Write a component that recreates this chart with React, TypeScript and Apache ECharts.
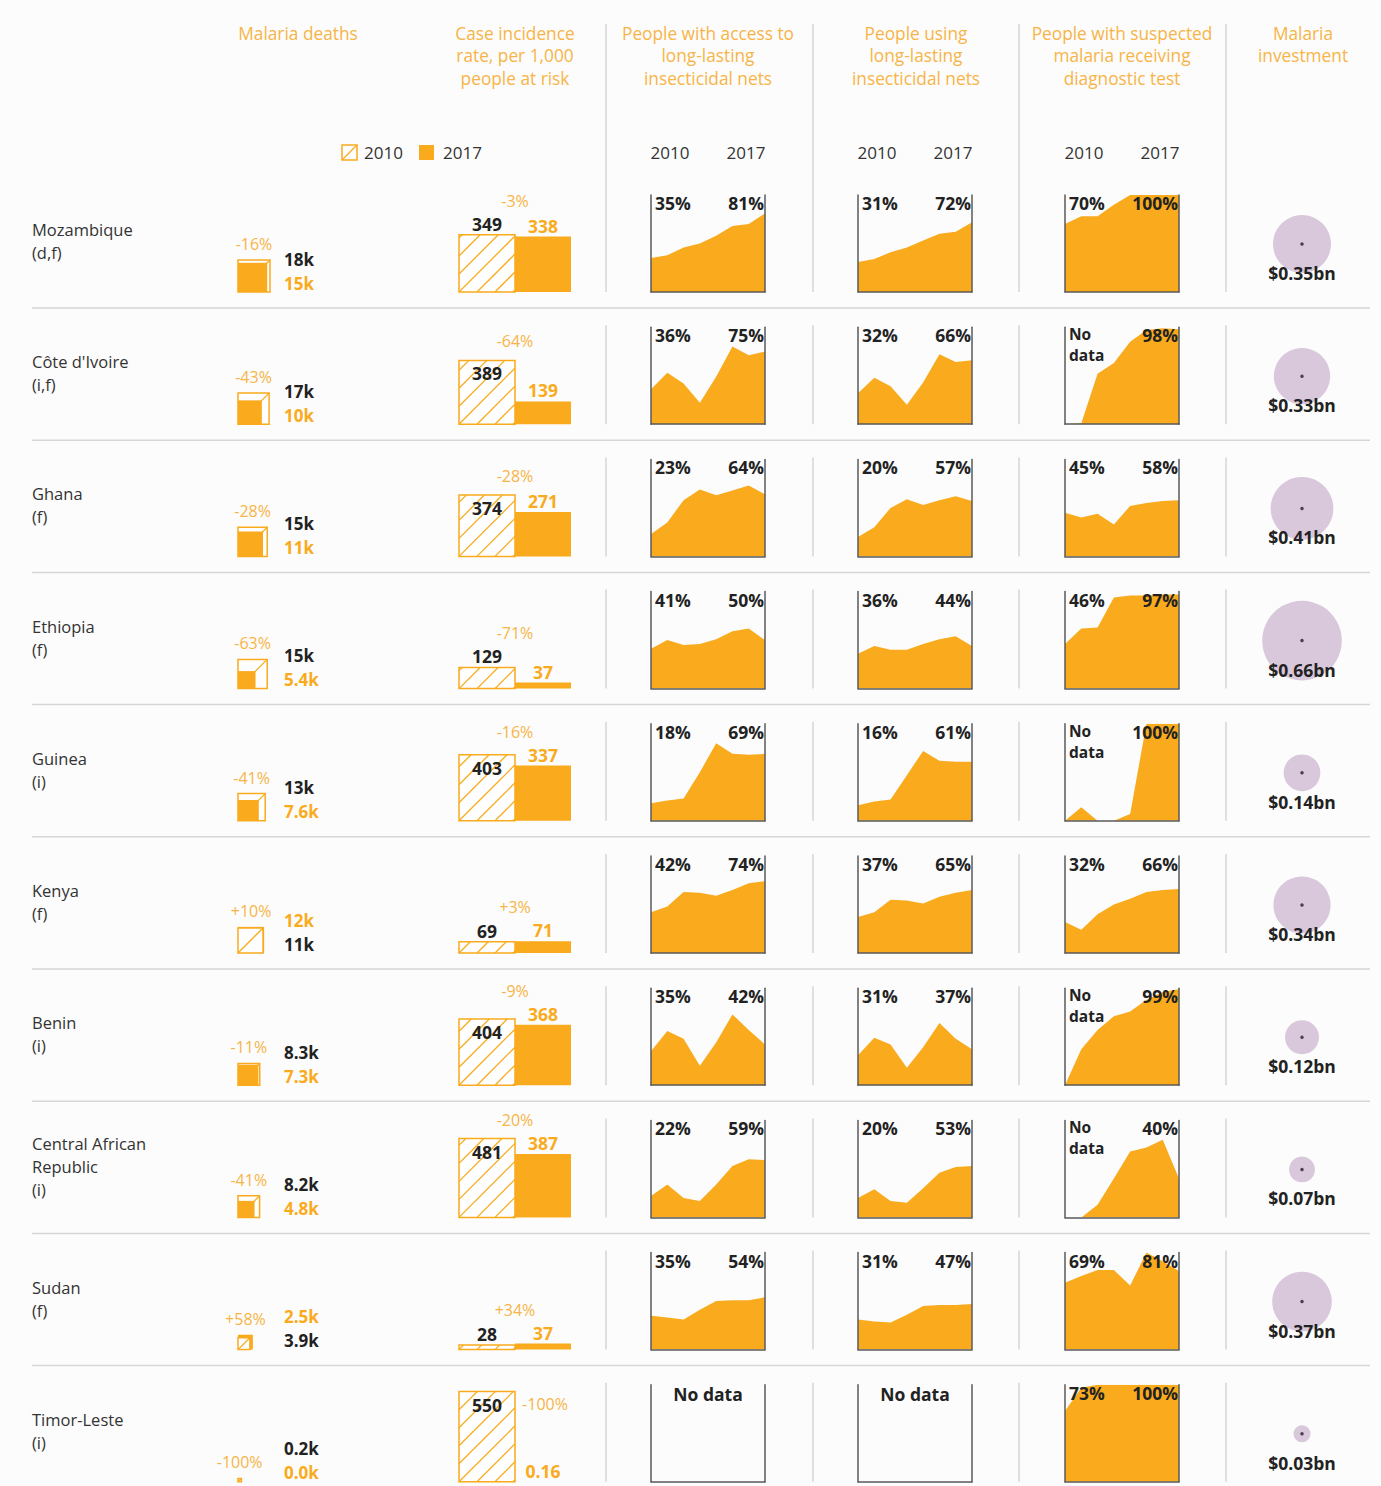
import React, { useEffect, useRef } from "react";
import * as echarts from "echarts";

// ---------- DATA ----------
const countryNames = ["Mozambique", "Côte d'Ivoire", "Ghana", "Ethiopia", "Guinea", "Kenya", "Benin", "Central African\nRepublic", "Sudan", "Timor-Leste"];
const countryNotes = ["(d,f)", "(i,f)", "(f)", "(f)", "(i)", "(f)", "(i)", "(i)", "(f)", "(i)"];

const years = ["2010", "2011", "2012", "2013", "2014", "2015", "2016", "2017"];

// Malaria deaths (thousands)
const deaths2010 = [18, 17, 15, 15, 13, 11, 8.3, 8.2, 2.5, 0.2];
const deaths2017 = [15, 10, 11, 5.4, 7.6, 12, 7.3, 4.8, 3.9, 0.0];
const deathsTopLabel = ["18k", "17k", "15k", "15k", "13k", "12k", "8.3k", "8.2k", "2.5k", "0.2k"];
const deathsBottomLabel = ["15k", "10k", "11k", "5.4k", "7.6k", "11k", "7.3k", "4.8k", "3.9k", "0.0k"];
const deathsChange = ["-16%", "-43%", "-28%", "-63%", "-41%", "+10%", "-11%", "-41%", "+58%", "-100%"];

// Case incidence per 1,000 at risk
const case2010 = [349, 389, 374, 129, 403, 69, 404, 481, 28, 550];
const case2017 = [338, 139, 271, 37, 337, 71, 368, 387, 37, 0.16];
const caseChange = ["-3%", "-64%", "-28%", "-71%", "-16%", "+3%", "-9%", "-20%", "+34%", "-100%"];

// % access to LLIN, 2010-2017
const netAccess: (number[] | null)[] = [
  [35, 38, 46, 50, 58, 68, 70, 81],
  [36, 53, 42, 22, 49, 80, 71, 75],
  [23, 35, 58, 69, 63, 68, 73, 64],
  [41, 50, 45, 46, 51, 59, 62, 50],
  [18, 21, 23, 50, 80, 69, 68, 69],
  [42, 48, 63, 62, 59, 65, 72, 74],
  [35, 56, 48, 20, 44, 73, 57, 42],
  [22, 34, 20, 17, 34, 53, 60, 59],
  [35, 33, 31, 41, 50, 51, 51, 54],
  null,
];
const netAccessLabels = [["35%", "81%"], ["36%", "75%"], ["23%", "64%"], ["41%", "50%"], ["18%", "69%"], ["42%", "74%"], ["35%", "42%"], ["22%", "59%"], ["35%", "54%"], ["No data", ""]];

// % using LLIN
const netUse: (number[] | null)[] = [
  [31, 34, 41, 46, 53, 60, 62, 72],
  [32, 48, 39, 20, 43, 72, 64, 66],
  [20, 30, 50, 59, 53, 58, 62, 57],
  [36, 44, 40, 40, 46, 51, 54, 44],
  [16, 20, 22, 47, 72, 62, 61, 61],
  [37, 42, 55, 54, 51, 58, 62, 65],
  [31, 49, 42, 18, 39, 64, 48, 37],
  [20, 29, 17, 15, 30, 46, 52, 53],
  [31, 29, 28, 36, 45, 46, 46, 47],
  null,
];
const netUseLabels = [["31%", "72%"], ["32%", "66%"], ["20%", "57%"], ["36%", "44%"], ["16%", "61%"], ["37%", "65%"], ["31%", "37%"], ["20%", "53%"], ["31%", "47%"], ["No data", ""]];

// % suspected malaria receiving diagnostic test
const diagTest: (number[] | null)[] = [
  [70, 78, 78, 90, 100, 100, 100, 100],
  [0, 1, 52, 63, 85, 97, 99, 98],
  [45, 40, 44, 33, 52, 55, 57, 58],
  [46, 62, 63, 94, 96, 96, 97, 97],
  [0, 14, 0, 0, 7, 100, 100, 100],
  [32, 24, 40, 50, 56, 63, 65, 66],
  [0, 37, 57, 71, 76, 88, 96, 99],
  [0, 0, 13, 40, 68, 72, 80, 40],
  [69, 76, 82, 82, 66, 100, 91, 81],
  [73, 97, 100, 100, 100, 100, 100, 100],
];
const diagTestLabels = [["70%", "100%"], ["No\ndata", "98%"], ["45%", "58%"], ["46%", "97%"], ["No\ndata", "100%"], ["32%", "66%"], ["No\ndata", "99%"], ["No\ndata", "40%"], ["69%", "81%"], ["73%", "100%"]];

// Malaria investment, $bn
const investment = [0.35, 0.33, 0.41, 0.66, 0.14, 0.34, 0.12, 0.07, 0.37, 0.03];

// Header texts
const headerDeaths = ["Malaria deaths"];
const headerCases = ["Case incidence", "rate, per 1,000", "people at risk"];
const headerAccess = ["People with access to", "long-lasting", "insecticidal nets"];
const headerUse = ["People using", "long-lasting", "insecticidal nets"];
const headerDiag = ["People with suspected", "malaria receiving", "diagnostic test"];
const headerInvest = ["Malaria", "investment"];

// ---------- STYLE ----------
const ORANGE = "#F9AB1D";
const ORANGE_LIGHT = "#F7B447";
const DARK = "#222222";
const TEXT = "#333333";
const BOX = "#5a5a5a";
const SEP = "#D6D6D6";
const BUBBLE = "#D9C7DB";
const BG = "#FCFCFC";
const FONT = '"Open Sans", "DejaVu Sans", sans-serif';
const BOLD_SIZE = 17.5;

const rowBase = (i: number) => 292 + i * 132.2;

function txt(x: number, y: number, text: string, o: any = {}) {
  const align = o.align || "left";
  const va = o.va || "middle";
  return {
    type: "text",
    x,
    y,
    silent: true,
    z: 50,
    style: {
      text,
      fill: o.color || TEXT,
      fontSize: o.size || 16,
      fontWeight: o.weight || "normal",
      fontFamily: FONT,
      align,
      textAlign: align,
      verticalAlign: va,
      textVerticalAlign: va,
    },
  };
}

function hatchEls(x0: number, yb: number, w: number, h: number, step: number, fill: string) {
  const els: any[] = [
    { type: "rect", shape: { x: x0, y: yb - h, width: w, height: h }, style: { fill, stroke: ORANGE, lineWidth: 1.5 } },
  ];
  if (w <= 0 || h <= 0) return els;
  const cs: number[] = [];
  if (step <= 0) cs.push(0);
  else for (let c = -Math.floor(h / step) * step; c < w; c += step) cs.push(c);
  cs.forEach((c) => {
    const u1 = Math.max(0, c);
    const u2 = Math.min(w, h + c);
    if (u2 <= u1) return;
    els.push({
      type: "line",
      shape: { x1: x0 + u1, y1: yb - (u1 - c), x2: x0 + u2, y2: yb - (u2 - c) },
      style: { stroke: ORANGE, lineWidth: 1.3 },
    });
  });
  return els;
}

function buildOption() {
  const grid: any[] = [];
  const xAxis: any[] = [];
  const yAxis: any[] = [];
  const series: any[] = [];
  const graphic: any[] = [];

  const hiddenAxis = (extra: any) => ({
    show: false,
    axisLine: { show: false },
    axisTick: { show: false },
    axisLabel: { show: false },
    splitLine: { show: false },
    ...extra,
  });

  // ---- header ----
  const hdr = (lines: string[], cx: number) =>
    lines.forEach((l, k) => graphic.push(txt(cx, 33 + k * 22.5, l, { align: "center", color: ORANGE_LIGHT, size: 17.3 })));
  hdr(headerDeaths, 298);
  hdr(headerCases, 515);
  hdr(headerAccess, 708);
  hdr(headerUse, 916);
  hdr(headerDiag, 1122);
  hdr(headerInvest, 1303);

  // legend
  graphic.push({ type: "group", silent: true, children: hatchEls(342, 160, 15, 15, 0, "#fff") });
  graphic.push(txt(364, 152, "2010", { size: 17 }));
  graphic.push({ type: "rect", silent: true, shape: { x: 419, y: 145, width: 15, height: 15 }, style: { fill: ORANGE } });
  graphic.push(txt(443, 152, "2017", { size: 17 }));

  const areaLefts = [651, 858, 1065];
  areaLefts.forEach((l) => {
    graphic.push(txt(l + 19, 152, years[0], { align: "center", size: 17 }));
    graphic.push(txt(l + 95, 152, years[7], { align: "center", size: 17 }));
  });

  // separators
  [606, 813, 1019, 1226].forEach((x) => {
    graphic.push({ type: "line", silent: true, shape: { x1: x, y1: 24, x2: x, y2: rowBase(0) }, style: { stroke: SEP, lineWidth: 1.5 } });
    for (let i = 1; i < countryNames.length; i++) {
      const b = rowBase(i);
      graphic.push({ type: "line", silent: true, shape: { x1: x, y1: b - 99, x2: x, y2: b }, style: { stroke: SEP, lineWidth: 1.5 } });
    }
  });
  for (let i = 0; i < countryNames.length - 1; i++) {
    const y = rowBase(i) + 16;
    graphic.push({ type: "line", silent: true, shape: { x1: 32, y1: y, x2: 1370, y2: y }, style: { stroke: SEP, lineWidth: 1.5 } });
  }

  countryNames.forEach((name, i) => {
    const lines = name.split("\n").concat([countryNotes[i]]);
    const b = rowBase(i);
    const y0 = b - 51 - ((lines.length - 1) * 23) / 2;
    lines.forEach((l, k) => graphic.push(txt(32, y0 + k * 23, l, { size: 16.5 })));
  });

  // ---- deaths squares ----
  const DSIDE = 37.7; // grid size for sqrt scale 0..5
  countryNames.forEach((_, i) => {
    const b = rowBase(i);
    const gi = grid.length;
    grid.push({ left: 238, top: b - DSIDE, width: DSIDE, height: DSIDE });
    xAxis.push(hiddenAxis({ gridIndex: gi, type: "value", min: 0, max: 5 }));
    yAxis.push(hiddenAxis({ gridIndex: gi, type: "value", min: 0, max: 5 }));
    const up = deathsChange[i].startsWith("+");
    series.push({
      type: "custom",
      xAxisIndex: xAxis.length - 1,
      yAxisIndex: yAxis.length - 1,
      clip: false,
      silent: true,
      encode: { x: 0, y: 1 },
      data: [[Math.sqrt(deaths2010[i]), Math.sqrt(deaths2017[i])]],
      renderItem: (params: any, api: any) => {
        const s10 = api.value(0);
        const s17 = api.value(1);
        const o = api.coord([0, 0]);
        const side10 = api.coord([s10, 0])[0] - o[0];
        const side17 = api.coord([s17, 0])[0] - o[0];
        const hatched = { type: "group", children: hatchEls(o[0], o[1], side10, side10, 0, "#fff") };
        const filled = { type: "rect", shape: { x: o[0], y: o[1] - side17, width: side17, height: side17 }, style: { fill: ORANGE } };
        const big = Math.max(side10, side17);
        const children: any[] = side10 >= side17 ? [hatched, filled] : [filled, hatched];
        children.push(txt(o[0] + big / 2, o[1] - big - 16, deathsChange[i], { align: "center", color: ORANGE_LIGHT, size: 16 }));
        children.push(txt(o[0] + 46, o[1] - 33, deathsTopLabel[i], { weight: "bold", color: up ? ORANGE : DARK, size: 17 }));
        children.push(txt(o[0] + 46, o[1] - 9, deathsBottomLabel[i], { weight: "bold", color: up ? DARK : ORANGE, size: 17 }));
        return { type: "group", children };
      },
    });
  });

  // ---- case incidence bars ----
  const CH = 98.4; // 0..600
  countryNames.forEach((_, i) => {
    const b = rowBase(i);
    const gi = grid.length;
    grid.push({ left: 459, top: b - CH, width: 112, height: CH });
    xAxis.push(hiddenAxis({ gridIndex: gi, type: "category", data: ["2010", "2017"], boundaryGap: true }));
    yAxis.push(hiddenAxis({ gridIndex: gi, type: "value", min: 0, max: 600 }));
    const xi = xAxis.length - 1;
    const yi = yAxis.length - 1;
    series.push({
      type: "bar",
      xAxisIndex: xi,
      yAxisIndex: yi,
      silent: true,
      barWidth: "100%",
      data: ["-", case2017[i]],
      itemStyle: { color: ORANGE },
      label: {
        show: true,
        position: "top",
        distance: 2,
        color: ORANGE,
        fontWeight: "bold",
        fontSize: BOLD_SIZE,
        fontFamily: FONT,
      },
    });
    series.push({
      type: "custom",
      xAxisIndex: xi,
      yAxisIndex: yi,
      clip: false,
      silent: true,
      encode: { x: 0, y: 1 },
      data: [[0, case2010[i], case2017[i]]],
      renderItem: (params: any, api: any) => {
        const v10 = api.value(1);
        const v17 = api.value(2);
        const bot = api.coord([0, 0]);
        const top = api.coord([0, v10]);
        const t17 = api.coord([1, v17]);
        const w = api.size([1, 0])[0];
        const h = bot[1] - top[1];
        const children: any[] = hatchEls(bot[0] - w / 2, bot[1], w, h, 18, "#fff");
        const inside = h > 59;
        const ly10 = inside ? top[1] + 13 : top[1] - 11;
        const ly17 = t17[1] - 11;
        children.push(txt(bot[0], ly10, String(v10), { align: "center", weight: "bold", color: DARK, size: BOLD_SIZE }));
        if (v17 < 1) {
          children.push(txt(t17[0] + 2, top[1] + 12, caseChange[i], { align: "center", color: ORANGE_LIGHT, size: 16 }));
        } else {
          const py = Math.min(Math.min(ly10, ly17) - 23, top[1] - 19);
          children.push(txt((bot[0] + t17[0]) / 2, py, caseChange[i], { align: "center", color: ORANGE_LIGHT, size: 16 }));
        }
        return { type: "group", children };
      },
    });
  });

  // ---- area sparklines ----
  const areaSets = [
    { data: netAccess, labels: netAccessLabels },
    { data: netUse, labels: netUseLabels },
    { data: diagTest, labels: diagTestLabels },
  ];
  const AW = 114;
  const AH = 97;
  countryNames.forEach((_, i) => {
    const b = rowBase(i);
    areaSets.forEach((set, c) => {
      const left = areaLefts[c];
      const top = b - AH;
      const gi = grid.length;
      grid.push({ left, top, width: AW, height: AH });
      const line = { show: true, lineStyle: { color: BOX, width: 1.5 } };
      xAxis.push({
        gridIndex: gi,
        type: "category",
        data: years,
        boundaryGap: false,
        z: 10,
        axisLine: line,
        axisTick: { show: false },
        axisLabel: { show: false },
        splitLine: { show: false },
      });
      const xi = xAxis.length - 1;
      yAxis.push({ gridIndex: gi, type: "value", min: 0, max: 100, z: 10, axisLine: line, axisTick: { show: false }, axisLabel: { show: false }, splitLine: { show: false } });
      const yi = yAxis.length - 1;
      yAxis.push({ gridIndex: gi, type: "value", position: "right", min: 0, max: 100, z: 10, axisLine: line, axisTick: { show: false }, axisLabel: { show: false }, splitLine: { show: false } });
      const vals = set.data[i];
      series.push({
        type: "line",
        xAxisIndex: xi,
        yAxisIndex: yi,
        silent: true,
        symbol: "none",
        data: vals ? vals : [],
        lineStyle: { width: 0 },
        areaStyle: { color: ORANGE, opacity: 1 },
        z: 2,
      });
      const [l0, l1] = set.labels[i];
      if (!vals) {
        graphic.push(txt(left + AW / 2, top + 9, l0, { align: "center", weight: "bold", color: DARK, size: BOLD_SIZE }));
      } else {
        const parts = l0.split("\n");
        if (parts.length > 1) {
          parts.forEach((part, k) =>
            graphic.push(txt(left + 4, top + 7 + k * 21, part, { weight: "bold", color: DARK, size: 15.5 }))
          );
        } else {
          graphic.push(txt(left + 4, top + 8, l0, { weight: "bold", color: DARK, size: BOLD_SIZE }));
        }
        graphic.push(txt(left + AW - 1, top + 8, l1, { align: "right", weight: "bold", color: DARK, size: BOLD_SIZE }));
      }
    });
  });

  // ---- investment bubbles ----
  const bgi = grid.length;
  const ROWH = 132.2;
  const nRows = countryNames.length;
  grid.push({ left: 1226, width: 152, top: rowBase(0) - 48, height: ROWH * (nRows - 1) });
  xAxis.push(hiddenAxis({ gridIndex: bgi, type: "category", data: ["inv"] }));
  yAxis.push(hiddenAxis({ gridIndex: bgi, type: "value", min: 0, max: nRows - 1, inverse: true }));
  const bxi = xAxis.length - 1;
  const byi = yAxis.length - 1;
  series.push({
    type: "scatter",
    xAxisIndex: bxi,
    yAxisIndex: byi,
    silent: true,
    clip: false,
    data: investment.map((v, i) => [0, i, v]),
    symbolSize: (val: number[]) => 98 * Math.sqrt(val[2]),
    itemStyle: { color: BUBBLE, opacity: 1 },
    label: {
      show: true,
      position: "inside",
      offset: [0, 29],
      formatter: (p: any) => "$" + p.value[2].toFixed(2) + "bn",
      color: DARK,
      fontWeight: "bold",
      fontSize: BOLD_SIZE,
      fontFamily: FONT,
    },
    z: 3,
  });
  series.push({
    type: "scatter",
    xAxisIndex: bxi,
    yAxisIndex: byi,
    silent: true,
    clip: false,
    data: investment.map((v, i) => [0, i]),
    symbolSize: 3.5,
    itemStyle: { color: DARK },
    z: 4,
  });

  return {
    animation: false,
    backgroundColor: BG,
    grid,
    xAxis,
    yAxis,
    series,
    graphic: { elements: graphic },
  };
}

export default function App() {
  const ref = useRef<HTMLDivElement>(null);
  useEffect(() => {
    document.body.style.margin = "0";
    const chart = echarts.init(ref.current!, null, { renderer: "svg" });
    chart.setOption(buildOption() as any);
    return () => chart.dispose();
  }, []);
  return <div ref={ref} style={{ width: 1381, height: 1486 }} />;
}
